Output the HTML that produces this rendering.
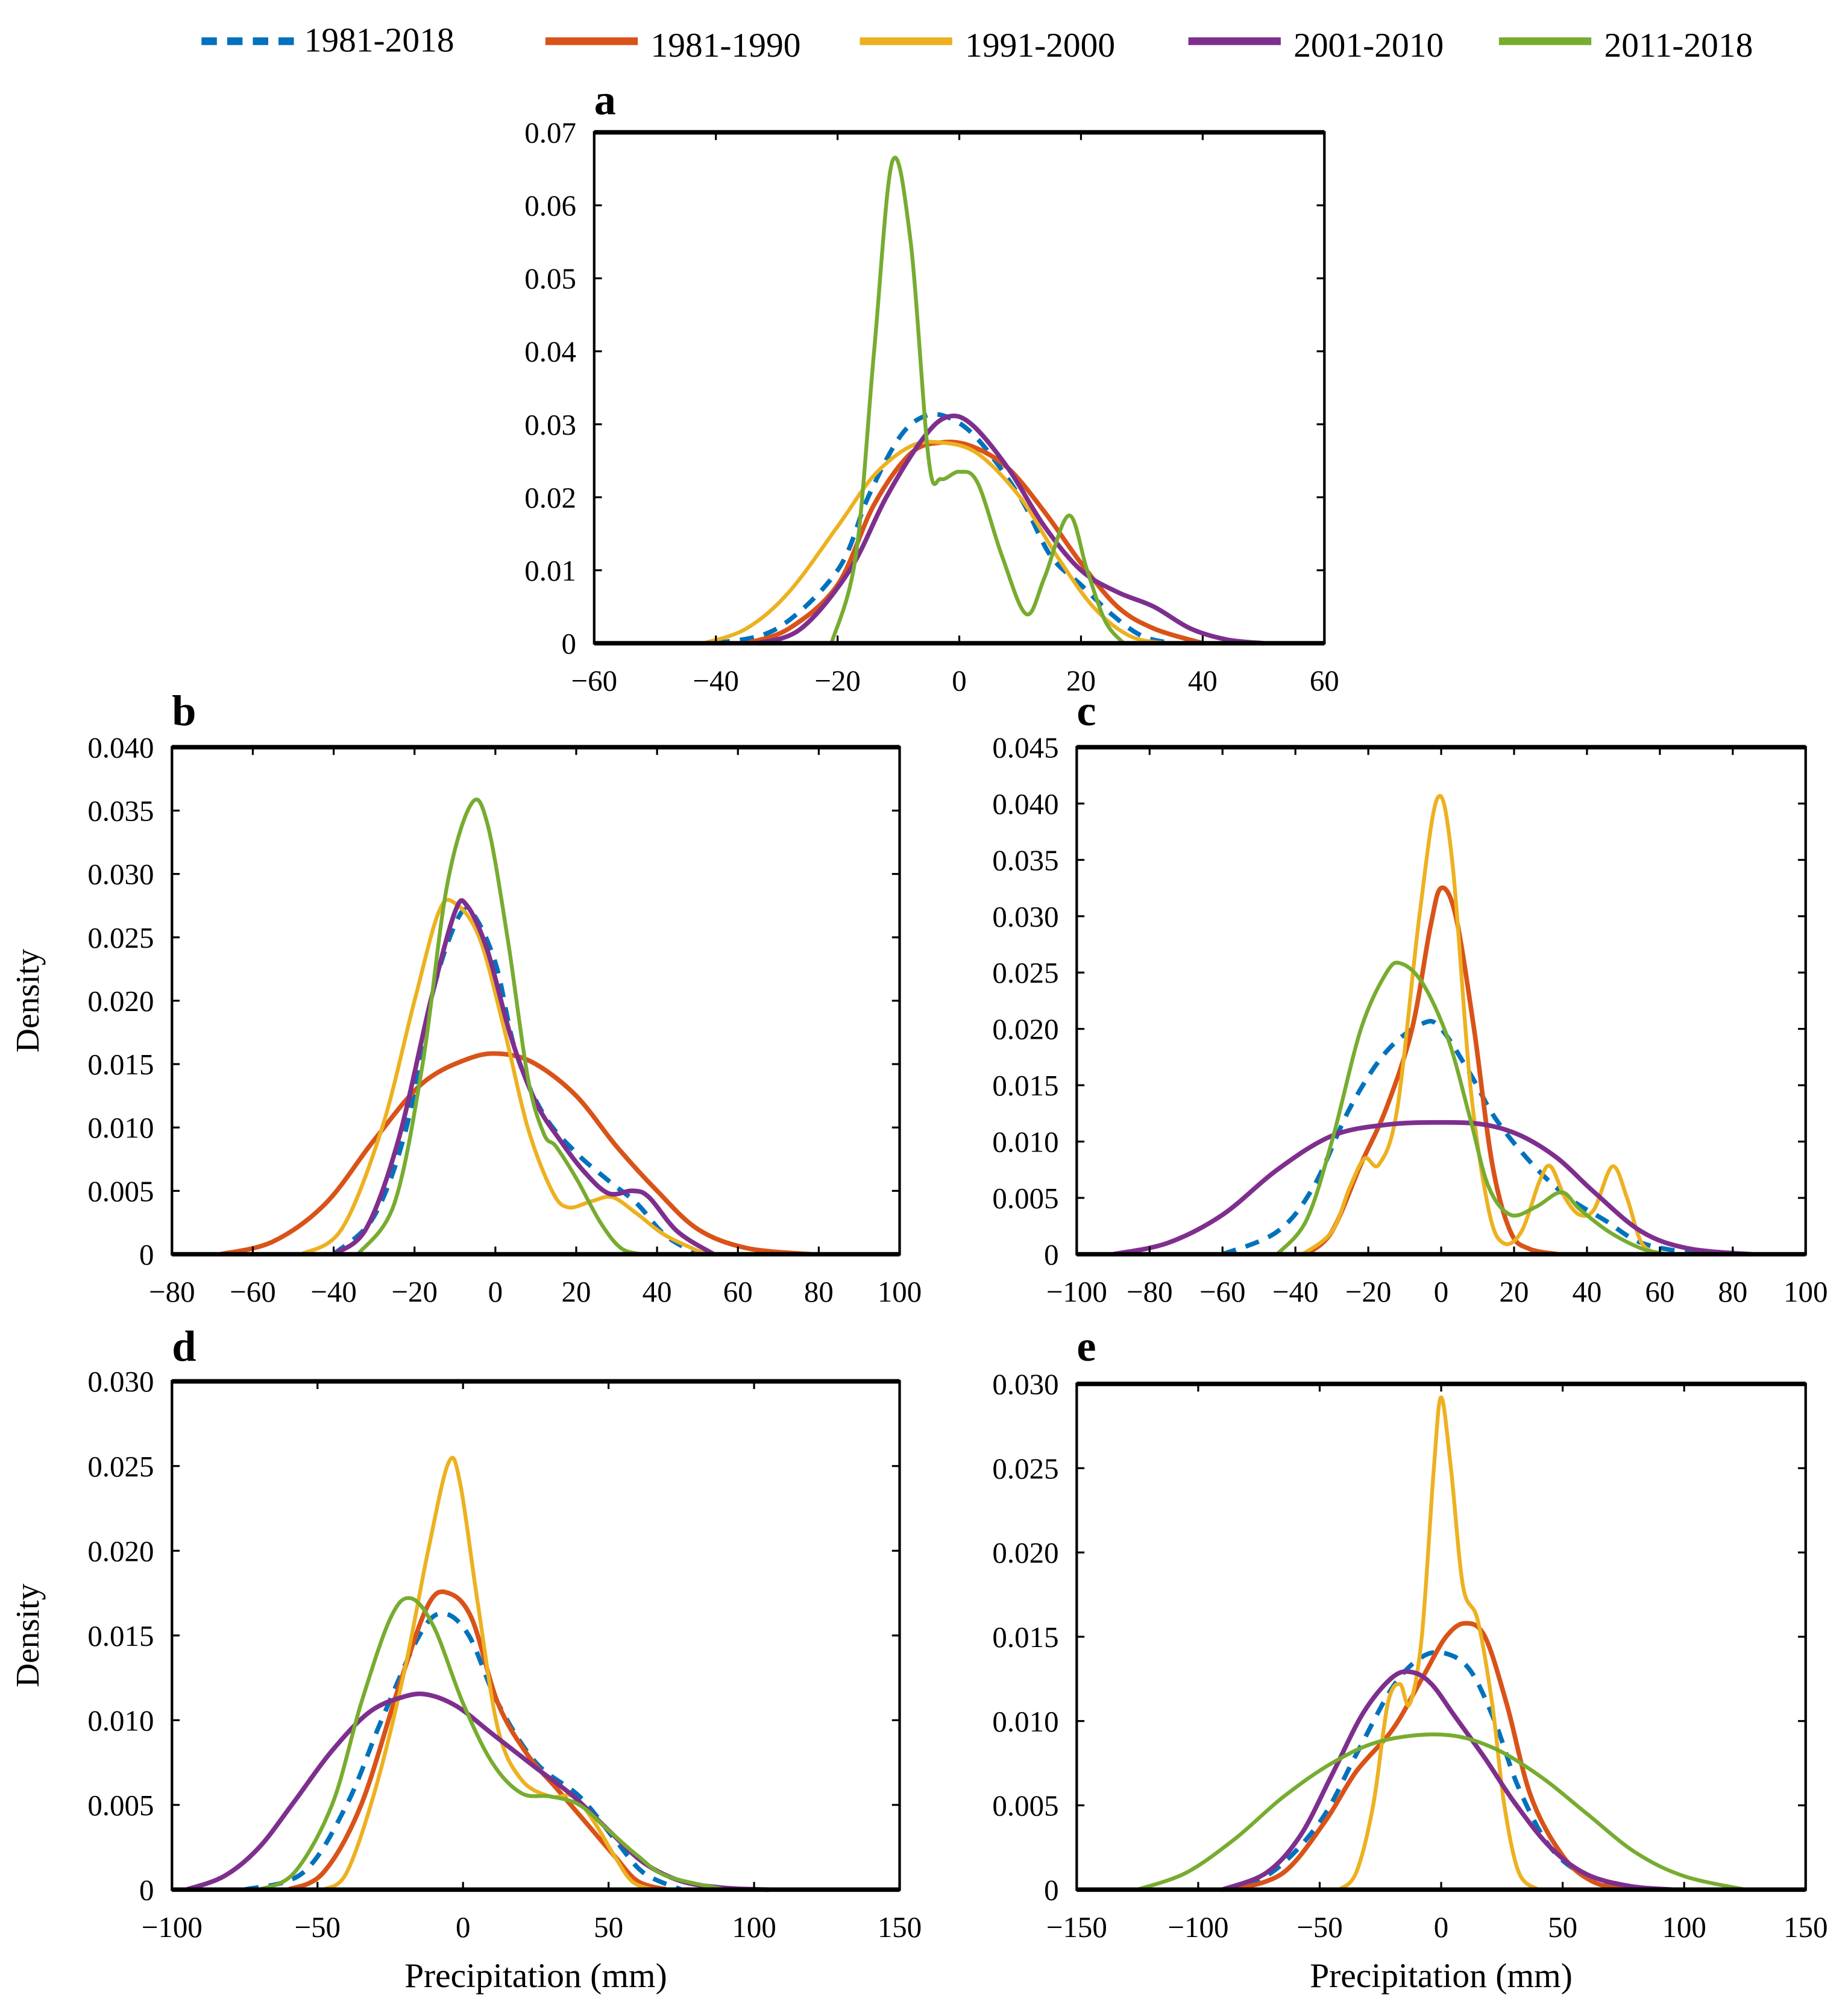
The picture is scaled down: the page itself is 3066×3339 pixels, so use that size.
<!DOCTYPE html>
<html><head><meta charset="utf-8"><style>
html,body{margin:0;padding:0;background:#fff}
svg{display:block}
text{font-family:"Liberation Serif",serif;fill:#000}
</style></head><body>
<svg id="fig" width="3066" height="3339" viewBox="0 0 1440 1568" xmlns="http://www.w3.org/2000/svg"></svg>
<script>
const seriesNames = ["1981-2018","1981-1990","1991-2000","2001-2010","2011-2018"];
const seriesColors = ["#0072BD","#D95319","#EDB120","#7E2F8E","#77AC30"];
const seriesWidths = [3.6,3.6,3.0,3.6,3.0];

const panelLabels = ["a","b","c","d","e"];
const xTicksA = [-60,-40,-20,0,20,40,60];
const yTicksA = ["0","0.01","0.02","0.03","0.04","0.05","0.06","0.07"];
const xTicksB = [-80,-60,-40,-20,0,20,40,60,80,100];
const yTicksB = ["0","0.005","0.010","0.015","0.020","0.025","0.030","0.035","0.040"];
const xTicksC = [-100,-80,-60,-40,-20,0,20,40,60,80,100];
const yTicksC = ["0","0.005","0.010","0.015","0.020","0.025","0.030","0.035","0.040","0.045"];
const xTicksD = [-100,-50,0,50,100,150];
const yTicksD = ["0","0.005","0.010","0.015","0.020","0.025","0.030"];
const xTicksE = [-150,-100,-50,0,50,100,150];
const yTicksE = ["0","0.005","0.010","0.015","0.020","0.025","0.030"];

// panel a
const aBlue = [[-40,0],[-30,0.002],[-20,0.01],[-15,0.02],[-10,0.028],[-6,0.031],[-2,0.031],[3,0.028],[10,0.02],[15,0.012],[20,0.008],[25,0.004],[30,0.001],[35,0]];
const aOrange = [[-35,0],[-28,0.002],[-20,0.008],[-14,0.019],[-8,0.026],[-3,0.0275],[2,0.027],[8,0.024],[14,0.018],[20,0.011],[26,0.005],[32,0.002],[40,0]];
const aYellow = [[-42,0],[-35,0.002],[-28,0.007],[-20,0.016],[-14,0.023],[-8,0.027],[-3,0.0275],[3,0.026],[10,0.02],[16,0.012],[22,0.005],[28,0.001],[34,0]];
const aPurple = [[-33,0],[-26,0.002],[-18,0.01],[-12,0.02],[-6,0.028],[-2,0.031],[2,0.030],[8,0.024],[14,0.016],[20,0.01],[26,0.007],[32,0.005],[38,0.002],[44,0.0005],[50,0]];
const aGreen = [[-21,0],[-17,0.012],[-14,0.04],[-11,0.066],[-8,0.055],[-5,0.025],[-3,0.0225],[0,0.0235],[3,0.022],[7,0.012],[11,0.004],[14,0.009],[18,0.0175],[21,0.01],[24,0.003],[27,0]];
// panel b
const bBlue = [[-40,0],[-30,0.003],[-22,0.01],[-16,0.02],[-10,0.026],[-6,0.027],[0,0.023],[5,0.016],[12,0.011],[20,0.008],[28,0.0058],[35,0.004],[42,0.0015],[50,0]];
const bOrange = [[-68,0],[-55,0.001],[-42,0.004],[-30,0.009],[-18,0.0135],[-6,0.0155],[2,0.0158],[10,0.015],[20,0.0125],[30,0.0085],[40,0.005],[50,0.002],[62,0.0005],[78,0]];
const bYellow = [[-48,0],[-38,0.002],[-28,0.01],[-20,0.02],[-14,0.027],[-10,0.0277],[-4,0.025],[2,0.018],[8,0.01],[14,0.005],[18,0.0037],[24,0.0042],[29,0.0045],[35,0.0032],[42,0.0015],[52,0]];
const bPurple = [[-40,0],[-32,0.002],[-24,0.009],[-16,0.02],[-10,0.027],[-7,0.0275],[-2,0.024],[4,0.017],[10,0.012],[16,0.009],[22,0.0065],[28,0.0048],[34,0.005],[38,0.0045],[45,0.0018],[54,0]];
const bGreen = [[-34,0],[-25,0.004],[-18,0.015],[-12,0.029],[-6,0.0355],[-2,0.034],[3,0.025],[8,0.014],[12,0.0095],[15,0.0085],[20,0.006],[26,0.0025],[31,0.0005],[36,0]];
// panel c
const cBlue = [[-60,0],[-45,0.002],[-35,0.006],[-25,0.013],[-15,0.018],[-5,0.0205],[0,0.02],[8,0.016],[15,0.012],[25,0.008],[35,0.005],[45,0.003],[55,0.001],[70,0]];
const cOrange = [[-37,0],[-30,0.002],[-22,0.008],[-15,0.013],[-8,0.02],[-3,0.029],[0,0.0325],[4,0.03],[9,0.02],[14,0.008],[19,0.002],[24,0.0005],[32,0]];
const cYellow = [[-38,0],[-30,0.002],[-25,0.006],[-21,0.0085],[-17,0.008],[-12,0.013],[-6,0.03],[-1,0.0405],[3,0.035],[8,0.015],[13,0.004],[17,0.001],[22,0.002],[27,0.0065],[30,0.0078],[34,0.005],[38,0.0035],[42,0.004],[47,0.0078],[51,0.005],[55,0.001],[60,0]];
const cPurple = [[-90,0],[-75,0.001],[-60,0.0035],[-45,0.0075],[-30,0.0105],[-15,0.0115],[0,0.0117],[12,0.0115],[22,0.0105],[32,0.0085],[42,0.0055],[55,0.002],[68,0.0005],[85,0]];
const cGreen = [[-45,0],[-37,0.003],[-30,0.01],[-22,0.02],[-15,0.025],[-11,0.0258],[-5,0.024],[2,0.019],[8,0.012],[13,0.006],[19,0.0035],[26,0.0042],[33,0.0055],[38,0.004],[46,0.002],[55,0.0005],[62,0]];
// panel d
const dBlue = [[-75,0],[-55,0.001],[-40,0.005],[-28,0.01],[-15,0.015],[-7,0.0163],[2,0.015],[12,0.011],[25,0.0075],[40,0.0055],[52,0.003],[62,0.001],[75,0]];
const dOrange = [[-60,0],[-48,0.001],[-35,0.005],[-22,0.012],[-12,0.0168],[-5,0.0175],[3,0.016],[12,0.011],[22,0.008],[32,0.006],[42,0.004],[52,0.002],[60,0.0005],[70,0]];
const dYellow = [[-48,0],[-40,0.001],[-30,0.006],[-20,0.013],[-12,0.02],[-5,0.0252],[-1,0.024],[5,0.017],[12,0.0095],[20,0.0065],[30,0.0055],[38,0.0055],[45,0.004],[52,0.002],[58,0.0005],[65,0]];
const dPurple = [[-95,0],[-82,0.0008],[-70,0.0025],[-58,0.0052],[-45,0.0082],[-32,0.0105],[-20,0.0114],[-12,0.0115],[-2,0.0108],[10,0.0092],[25,0.0072],[38,0.0055],[50,0.0035],[62,0.0016],[75,0.0005],[90,0.0001],[105,0]];
const dGreen = [[-70,0],[-58,0.001],[-45,0.005],[-35,0.011],[-25,0.016],[-18,0.0172],[-10,0.0155],[0,0.011],[10,0.0075],[20,0.0057],[30,0.0055],[40,0.005],[50,0.0035],[60,0.002],[70,0.0008],[90,0]];
// panel e
const eBlue = [[-90,0],[-70,0.001],[-50,0.004],[-35,0.008],[-20,0.012],[-8,0.0138],[2,0.014],[12,0.013],[22,0.01],[32,0.006],[45,0.0025],[60,0.0008],[80,0]];
const eOrange = [[-85,0],[-65,0.001],[-48,0.004],[-35,0.007],[-20,0.0095],[-8,0.0125],[2,0.015],[10,0.0158],[18,0.015],[27,0.011],[37,0.0055],[50,0.002],[62,0.0005],[75,0]];
const eYellow = [[-42,0],[-35,0.001],[-28,0.005],[-22,0.011],[-17,0.0122],[-13,0.011],[-8,0.015],[-3,0.025],[0,0.0292],[4,0.025],[9,0.018],[15,0.016],[21,0.011],[26,0.005],[32,0.001],[40,0]];
const ePurple = [[-90,0],[-72,0.001],[-58,0.0032],[-45,0.0068],[-32,0.0105],[-20,0.0126],[-12,0.0129],[-4,0.0122],[6,0.0102],[18,0.0078],[30,0.0052],[45,0.0025],[60,0.0009],[78,0.0002],[95,0]];
const eGreen = [[-125,0],[-105,0.001],[-85,0.003],[-65,0.0055],[-45,0.0075],[-25,0.0088],[0,0.0092],[20,0.0085],[40,0.0068],[60,0.0045],[80,0.0022],[100,0.0008],[125,0]];

const NS = "http://www.w3.org/2000/svg";
const svg = document.getElementById("fig");
function mk(tag, attrs, parent){const e=document.createElementNS(NS,tag);for(const k in attrs)e.setAttribute(k,attrs[k]);(parent||svg).appendChild(e);return e;}

const panels = [
 {box:[463,103,1032,501], xr:[-60,60], yr:[0,0.07], xt:xTicksA, yt:yTicksA, s:[aBlue,aOrange,aYellow,aPurple,aGreen], lab:[463,77], dens:false, xl:false},
 {box:[134,582,701,977], xr:[-80,100], yr:[0,0.04], xt:xTicksB, yt:yTicksB, s:[bBlue,bOrange,bYellow,bPurple,bGreen], lab:[134,553], dens:true, xl:false},
 {box:[839,582,1407,977], xr:[-100,100], yr:[0,0.045], xt:xTicksC, yt:yTicksC, s:[cBlue,cOrange,cYellow,cPurple,cGreen], lab:[839,553], dens:false, xl:false},
 {box:[134,1076,701,1472], xr:[-100,150], yr:[0,0.03], xt:xTicksD, yt:yTicksD, s:[dBlue,dOrange,dYellow,dPurple,dGreen], lab:[134,1048], dens:true, xl:true},
 {box:[839,1078,1407,1472], xr:[-150,150], yr:[0,0.03], xt:xTicksE, yt:yTicksE, s:[eBlue,eOrange,eYellow,ePurple,eGreen], lab:[839,1048], dens:false, xl:true}
];

function smoothPath(pts){
  let d="M"+pts[0][0].toFixed(1)+","+pts[0][1].toFixed(1);
  for(let i=0;i<pts.length-1;i++){
    const p0=pts[Math.max(0,i-1)],p1=pts[i],p2=pts[i+1],p3=pts[Math.min(pts.length-1,i+2)];
    const c1=[p1[0]+(p2[0]-p0[0])/6,p1[1]+(p2[1]-p0[1])/6];
    const c2=[p2[0]-(p3[0]-p1[0])/6,p2[1]-(p3[1]-p1[1])/6];
    d+=" C"+c1[0].toFixed(1)+","+c1[1].toFixed(1)+" "+c2[0].toFixed(1)+","+c2[1].toFixed(1)+" "+p2[0].toFixed(1)+","+p2[1].toFixed(1);
  }
  return d;
}

panels.forEach((p,pi)=>{
  const [L,T,R,B]=p.box;
  const g=mk("g",{});
  
  
  const xs=v=>L+(v-p.xr[0])/(p.xr[1]-p.xr[0])*(R-L);
  const ys=v=>B-(v-p.yr[0])/(p.yr[1]-p.yr[0])*(B-T);
  p.s.forEach((arr,si)=>{
    const pts=arr.map(q=>[xs(q[0]),ys(q[1])]);
    const path=mk("path",{d:smoothPath(pts),fill:"none",stroke:seriesColors[si],"stroke-width":seriesWidths[si],"stroke-linejoin":"round","stroke-linecap":"round"},g);
    if(si===0){path.setAttribute("stroke-dasharray","11 8");path.setAttribute("stroke-linecap","butt");}
    
    
  });
  const fr=mk("rect",{x:L,y:T,width:R-L,height:B-T,fill:"none",stroke:"#000","stroke-width":2},g);
  
  
  mk("line",{x1:L,y1:T,x2:R,y2:T,stroke:"#000","stroke-width":3.5},g);
  mk("line",{x1:L,y1:B,x2:R,y2:B,stroke:"#000","stroke-width":3.5},g);
  p.xt.forEach(v=>{
    const x=xs(v);
    mk("line",{x1:x,y1:B,x2:x,y2:B-6,stroke:"#000","stroke-width":1.5},g);
    mk("line",{x1:x,y1:T,x2:x,y2:T+6,stroke:"#000","stroke-width":1.5},g);
    const t=mk("text",{x:x,y:B+37,"text-anchor":"middle","font-size":23},g);
    t.textContent=(v<0?"\u2212"+(-v):String(v));
    
    
  });
  p.yt.forEach(s=>{
    const y=ys(parseFloat(s));
    mk("line",{x1:L,y1:y,x2:L+6,y2:y,stroke:"#000","stroke-width":1.5},g);
    mk("line",{x1:R,y1:y,x2:R-6,y2:y,stroke:"#000","stroke-width":1.5},g);
    const t=mk("text",{x:L-14,y:y+8,"text-anchor":"end","font-size":23},g);
    t.textContent=s;
    
    
  });
  const lb=mk("text",{x:p.lab[0],y:p.lab[1]+12,"font-size":34,"font-weight":"bold"},g);
  lb.textContent=panelLabels[pi];
  
  
  if(p.dens){
    const cy=(T+B)/2;
    const d=mk("text",{x:30,y:cy,"text-anchor":"middle","font-size":26,transform:"rotate(-90 30 "+cy+")"},g);
    d.textContent="Density";
    
    
  }
  if(p.xl){
    const cx=(L+R)/2;
    const d=mk("text",{x:cx,y:B+76,"text-anchor":"middle","font-size":27},g);
    d.textContent="Precipitation (mm)";
    
    
  }
});

const legX=[157,425,670,926,1168];
const legend=mk("g",{});


seriesNames.forEach((n,i)=>{
  const y=32;
  const ln=mk("line",{x1:legX[i],y1:y,x2:legX[i]+72,y2:y,stroke:seriesColors[i],"stroke-width":6},legend);
  if(i===0)ln.setAttribute("stroke-dasharray","12 8");
  
  
  const t=mk("text",{x:legX[i]+(i===0?80:82),y:y+(i===0?8:12),"font-size":27},legend);
  t.textContent=n;
  
  
});
</script>
</body></html>
